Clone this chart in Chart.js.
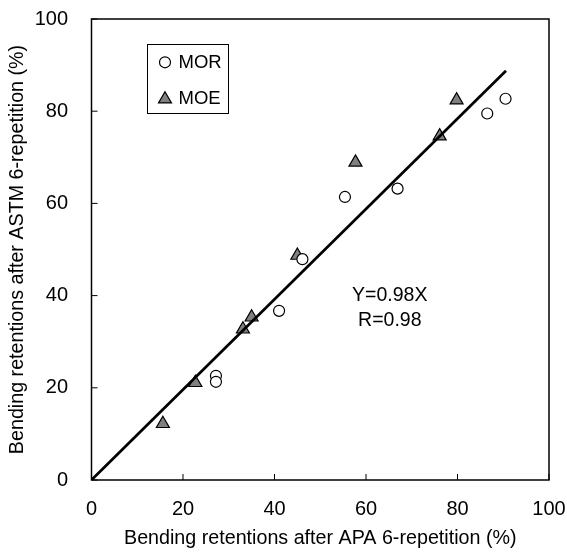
<!DOCTYPE html>
<html>
<head>
<meta charset="utf-8">
<script src="https://cdn.jsdelivr.net/npm/chart.js@4.4.0/dist/chart.umd.min.js"></script>
<style>
  html, body { margin: 0; padding: 0; background: #fff; }
</style>
</head>
<body>
<canvas id="chart" width="567" height="556"></canvas>
<script>
// MOR retentions: x = after APA 6-repetition, y = after ASTM 6-repetition (%)
var morX = [90.5, 86.5, 66.9, 55.4, 46.1, 41.0, 27.2, 27.2];
var morY = [82.7, 79.5, 63.2, 61.4, 47.9, 36.7, 22.6, 21.3];

// MOE retentions
var moeX = [79.8, 76.1, 57.7, 45.0, 35.0, 33.1, 22.7, 15.6];
var moeY = [82.4, 74.6, 68.9, 48.7, 35.3, 32.7, 21.1, 12.2];

// fitted line Y = 0.98X, drawn from x = 0 to x = 90.6
var fitSlope = 0.98;
var fitR = 0.98;
var fitRange = [0, 90.6];

var tickValues = [0, 20, 40, 60, 80, 100];
var xTitle = 'Bending retentions after APA 6-repetition (%)';
var yTitle = 'Bending retentions after ASTM 6-repetition (%)';

var fontFamily = 'Arial, "Liberation Sans", sans-serif';
Chart.defaults.color = '#000';

function toPoints(xs, ys) {
    return xs.map(function(x, i) { return {x: x, y: ys[i]}; });
}

function drawMarker(ctx, style, x, y, r) {
    ctx.beginPath();
    if (style === 'triangle') {
        ctx.moveTo(x, y - r);
        ctx.lineTo(x + Math.sin(2 * Math.PI / 3) * r, y + r / 2);
        ctx.lineTo(x - Math.sin(2 * Math.PI / 3) * r, y + r / 2);
        ctx.closePath();
    } else {
        ctx.arc(x, y, r, 0, Math.PI * 2);
    }
    ctx.fill();
    ctx.stroke();
}

// frame, inner ticks, equation text and the boxed legend
var extrasPlugin = {
    id: 'extras',
    afterDraw: function(chart) {
        var ctx = chart.ctx;
        var a = chart.chartArea;
        var xs = chart.scales.x, ys = chart.scales.y;
        ctx.save();

        ctx.strokeStyle = '#000';
        ctx.lineWidth = 1.5;
        ctx.strokeRect(a.left, a.top, a.right - a.left, a.bottom - a.top);

        ctx.lineWidth = 1;
        ctx.beginPath();
        tickValues.forEach(function(v) {
            var px = xs.getPixelForValue(v);
            ctx.moveTo(px, a.bottom);
            ctx.lineTo(px, a.bottom - 6);
            var py = ys.getPixelForValue(v);
            ctx.moveTo(a.left, py);
            ctx.lineTo(a.left + 6, py);
        });
        ctx.stroke();

        // equation
        ctx.fillStyle = '#000';
        ctx.font = '19.5px ' + fontFamily;
        ctx.textAlign = 'center';
        ctx.textBaseline = 'middle';
        var ex = xs.getPixelForValue(65.2);
        ctx.fillText('Y=' + fitSlope.toFixed(2) + 'X', ex, ys.getPixelForValue(40.1));
        ctx.fillText('R=' + fitR.toFixed(2), ex, ys.getPixelForValue(34.6));

        // legend box
        ctx.fillStyle = '#fff';
        ctx.fillRect(147, 44, 82, 70);
        ctx.lineWidth = 1;
        ctx.strokeRect(147.5, 44.5, 81, 69);

        var rows = [chart.data.datasets[1], chart.data.datasets[2]];
        var rowY = [62.3, 97.7];
        ctx.font = '18.5px ' + fontFamily;
        ctx.textAlign = 'left';
        rows.forEach(function(ds, i) {
            ctx.fillStyle = ds.pointBackgroundColor;
            ctx.strokeStyle = '#000';
            ctx.lineWidth = ds.pointBorderWidth;
            drawMarker(ctx, ds.pointStyle, 165, rowY[i] + (ds.pointStyle === 'triangle' ? 1.5 : 0), ds.pointRadius);
            ctx.fillStyle = '#000';
            ctx.fillText(ds.label, 178.5, rowY[i] + 1);
        });

        ctx.restore();
    }
};

var chartObject = document.getElementById('chart');

var chartScatter = new Chart(chartObject, {
    type: 'scatter',
    data: {
        datasets: [
            {
                label: 'fit',
                data: fitRange.map(function(x) { return {x: x, y: fitSlope * x}; }),
                showLine: true,
                borderColor: '#000',
                borderWidth: 2.7,
                pointRadius: 0,
                order: 0
            },
            {
                label: 'MOR',
                data: toPoints(morX, morY),
                pointStyle: 'circle',
                pointRadius: 5.5,
                pointBackgroundColor: '#fff',
                pointBorderColor: '#000',
                pointBorderWidth: 1.2,
                order: 1
            },
            {
                label: 'MOE',
                data: toPoints(moeX, moeY),
                pointStyle: 'triangle',
                pointRadius: 7.5,
                pointBackgroundColor: '#808080',
                pointBorderColor: '#000',
                pointBorderWidth: 1.2,
                order: 2
            }
        ]
    },
    options: {
        responsive: false,
        devicePixelRatio: 1,
        animation: false,
        layout: { padding: { top: 19, right: 18, left: 0, bottom: 0 } },
        plugins: {
            legend: { display: false },
            tooltip: { enabled: false }
        },
        scales: {
            x: {
                type: 'linear',
                min: 0,
                max: 100,
                afterBuildTicks: function(s) { s.ticks = tickValues.map(function(v) { return {value: v}; }); },
                ticks: { padding: 17.5, font: { family: fontFamily, size: 20 }, color: '#000' },
                grid: { display: false, drawTicks: false },
                border: { display: false },
                title: { display: true, text: xTitle, font: { family: fontFamily, size: 19.7 }, color: '#000', padding: { top: 0, bottom: 5.2 } },
                afterFit: function(s) {
                    s.height = 76;
                    s.paddingLeft = 0; s.paddingRight = 0; s.paddingTop = 0; s.paddingBottom = 0;
                }
            },
            y: {
                type: 'linear',
                min: 0,
                max: 100,
                afterBuildTicks: function(s) { s.ticks = tickValues.map(function(v) { return {value: v}; }); },
                ticks: { padding: 23.5, font: { family: fontFamily, size: 20 }, color: '#000' },
                grid: { display: false, drawTicks: false },
                border: { display: false },
                title: { display: true, text: yTitle, font: { family: fontFamily, size: 19.7 }, color: '#000', padding: { top: 6.2, bottom: 0 } },
                afterFit: function(s) {
                    s.width = 91.5;
                    s.paddingLeft = 0; s.paddingRight = 0; s.paddingTop = 0; s.paddingBottom = 0;
                }
            }
        }
    },
    plugins: [extrasPlugin]
});
</script>
</body>
</html>
